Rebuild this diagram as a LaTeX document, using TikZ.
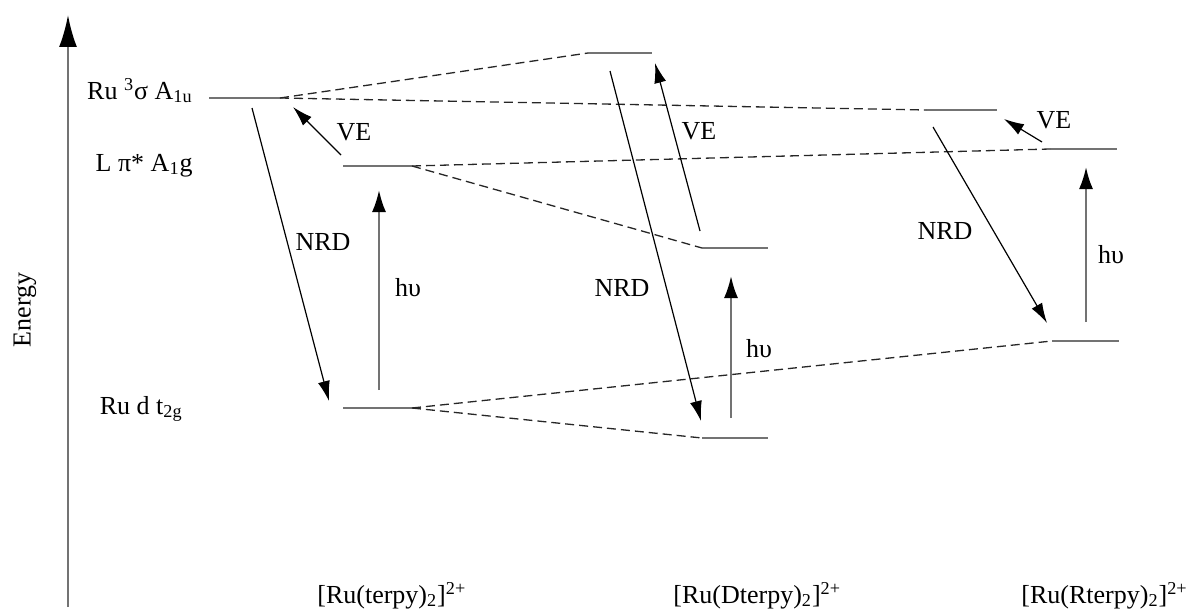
\documentclass[tikz,border=0pt]{standalone}
\usepackage{fontspec}
\setmainfont{Liberation Serif}
\usepackage{tikz}
\usetikzlibrary{arrows.meta,calc}
\tikzstyle{orbital}=[draw=black!55, line width=1.3pt]
\tikzstyle{corr}=[draw=black!85, line width=0.65pt, dash pattern=on 4.5pt off 2.5pt]
\tikzstyle{trans}=[draw, line width=0.6pt, -{Latex[length=10pt,width=6pt]}]
\tikzstyle{photon}=[draw=black!55, line width=1.1pt, -{Latex[length=11pt,width=7pt,color=black]}]
\tikzstyle{lab}=[font=\fontsize{13}{15}\selectfont, inner sep=0pt]

\begin{document}
\begin{tikzpicture}[x=0.5pt, y=-0.5pt]
  \useasboundingbox (0,0) rectangle (1186,610);

  % energy axis
  \coordinate (ax0) at (68,607);
  \coordinate (ax1) at (68,15);
  \draw[draw=black!55, line width=1.1pt, -{Latex[length=16pt,width=9pt,color=black]}] (ax0) -- (ax1);
  \node[lab, rotate=90] (energy) at (25,310) {Energy};

  % levels
  \foreach \name/\xa/\xb/\y in {s1/209/280/98, p1/343/412/166, d1/343/412/408,
                                s2/588/652/53, p2/702/768/248, d2/702/768/438,
                                s3/926/997/110, p3/1050/1117/149, d3/1052/1119/341} {
    \coordinate (\name-l) at (\xa,\y);
    \coordinate (\name-r) at (\xb,\y);
    \draw[orbital] (\name-l) -- (\name-r);
  }

  % correlation lines
  \foreach \a/\b in {s1-r/s2-l, s1-r/s3-l, p1-r/p2-l, p1-r/p3-l, d1-r/d2-l, d1-r/d3-l}
    \draw[corr] (\a) -- (\b);

  % level labels
  \node[lab, anchor=base east] (lsig) at (193,99) {Ru \textsuperscript{3}σ A\textsubscript{1u}};
  \node[lab, anchor=base east] (lpi) at (193,171) {L π* A\textsubscript{1}g};
  \node[lab, anchor=base east] (ld) at (183,414) {Ru d t\textsubscript{2g}};

  % arrow ends
  \coordinate (nrd1a) at (252,108);  \coordinate (nrd1b) at (329,401);
  \coordinate (hv1a) at (379,390);   \coordinate (hv1b) at (379,190);
  \coordinate (ve1a) at (341,155);   \coordinate (ve1b) at (293,107);
  \coordinate (nrd2a) at (610,71);   \coordinate (nrd2b) at (701,421);
  \coordinate (ve2a) at (700,231);   \coordinate (ve2b) at (655,63);
  \coordinate (hv2a) at (731,418);   \coordinate (hv2b) at (731,276);
  \coordinate (ve3a) at (1042,142);  \coordinate (ve3b) at (1004,119);
  \coordinate (nrd3a) at (933,127);  \coordinate (nrd3b) at (1047,323);
  \coordinate (hv3a) at (1086,322);  \coordinate (hv3b) at (1086,167);

  % transitions
  \foreach \t in {nrd1, ve1, nrd2, ve2, ve3, nrd3}
    \draw[trans] (\t a) -- (\t b);
  \foreach \t in {hv1, hv2, hv3}
    \draw[photon] (\t a) -- (\t b);

  % transition labels
  \node[lab] (nrd1) at (323,242) {NRD};
  \node[lab] (hv1) at (408,288) {hυ};
  \node[lab] (ve1) at (354,132) {VE};
  \node[lab] (nrd2) at (622,288) {NRD};
  \node[lab] (ve2) at (699,131) {VE};
  \node[lab] (hv2) at (759,349) {hυ};
  \node[lab] (ve3) at (1054,120) {VE};
  \node[lab] (nrd3) at (945,231) {NRD};
  \node[lab] (hv3) at (1111,255) {hυ};

  % complexes
  \node[lab, anchor=base west] (c1) at (317,603) {[Ru(terpy)\textsubscript{2}]\textsuperscript{2+}};
  \node[lab, anchor=base west] (c2) at (673,603) {[Ru(Dterpy)\textsubscript{2}]\textsuperscript{2+}};
  \node[lab, anchor=base west] (c3) at (1021,603) {[Ru(Rterpy)\textsubscript{2}]\textsuperscript{2+}};
\end{tikzpicture}
\end{document}
